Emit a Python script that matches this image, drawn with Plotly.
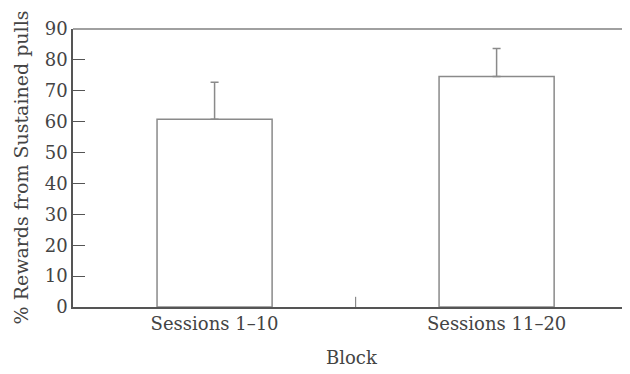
import plotly.graph_objects as go

categories = ["Sessions 1–10", "Sessions 11–20"]
values = [60.8, 74.6]
errors = [12.0, 9.1]
y_ticks = [0, 10, 20, 30, 40, 50, 60, 70, 80, 90]

xpos = list(range(len(categories)))

fig = go.Figure()
fig.add_trace(go.Bar(
    x=xpos, y=values, width=0.408,
    marker=dict(color="white", line=dict(color="#8a8a8a", width=1.5)),
    error_y=dict(type="data", array=errors, arrayminus=[0] * len(errors),
                 symmetric=False, color="#8a8a8a", thickness=1.5, width=4),
    showlegend=False,
))

font_family = "DejaVu Serif"
text_color = "#444444"
plot_w, plot_h = 557, 278
fig.update_layout(
    width=622, height=366,
    margin=dict(l=65, r=0, t=21, b=67),
    paper_bgcolor="white", plot_bgcolor="white",
    font=dict(family=font_family, color=text_color, size=18),
    xaxis=dict(
        range=[-0.502, 1.473], tickvals=xpos, ticktext=categories,
        ticks="", showgrid=False, zeroline=False, automargin=False,
        showline=True, linecolor="#555555", linewidth=1.5,
        tickfont=dict(size=18),
    ),
    yaxis=dict(
        range=[0, 90], tickvals=y_ticks, ticks="inside", ticklen=12,
        tickcolor="#555555", tickwidth=1.2,
        showgrid=False, zeroline=False, automargin=False,
        showline=True, linecolor="#555555", linewidth=1.5,
        tickfont=dict(size=18),
    ),
    annotations=[
        dict(text="Block", xref="paper", yref="paper", x=0.5, y=-50 / plot_h,
             xanchor="center", yanchor="middle", showarrow=False,
             font=dict(size=18, color=text_color)),
        dict(text="% Rewards from Sustained pulls", xref="paper", yref="paper",
             x=-52 / plot_w, y=0.502, textangle=-90, xanchor="center", yanchor="middle",
             showarrow=False, font=dict(size=19, color=text_color)),
    ],
)
# top border line (grey)
fig.add_shape(type="line", xref="paper", yref="paper", x0=0, x1=1, y0=1, y1=1,
              line=dict(color="#a0a0a0", width=2))
# short centre tick on the x axis
fig.add_shape(type="line", xref="x", yref="y", x0=0.5, x1=0.5, y0=0, y1=3.3,
              line=dict(color="#8a8a8a", width=1.2))

fig.write_html("out.html")
